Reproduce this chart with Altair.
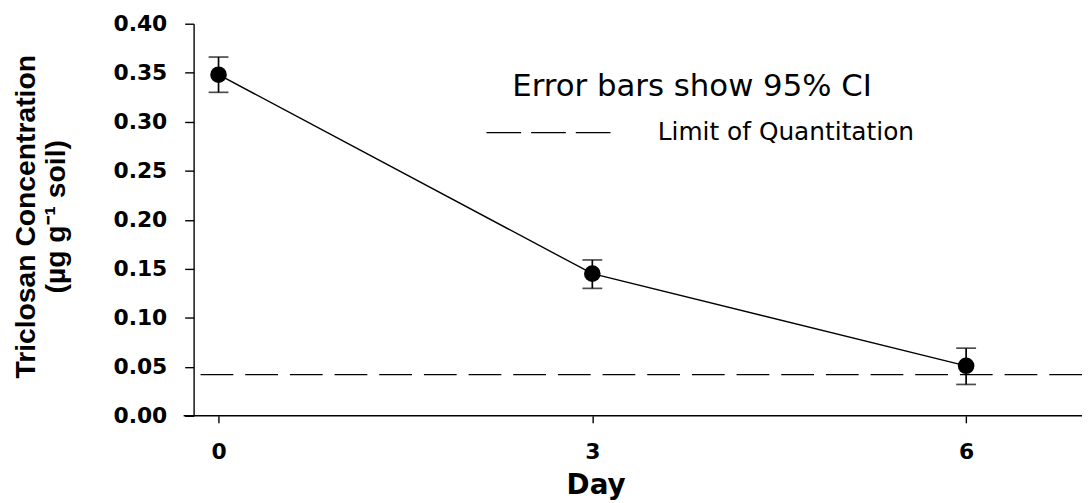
import altair as alt
import pandas as pd

# ---- data ----
days = [0, 3, 6]
means = [0.348, 0.145, 0.051]
ci_low = [0.330, 0.130, 0.032]
ci_high = [0.366, 0.159, 0.069]
loq = 0.042

x_ticks = [0, 3, 6]
y_ticks = [0.0, 0.05, 0.10, 0.15, 0.20, 0.25, 0.30, 0.35, 0.40]

# annotation anchor points (data coordinates)
note_text = ["Error bars show 95% CI"]
note_x = [2.357]
note_y = [0.3261]
legend_text = ["Limit of Quantitation"]
legend_text_x = [3.525]
legend_text_y = [0.281]
legend_line_x = [2.15]
legend_line_x2 = [3.15]
legend_line_y = [0.2889]

# x-axis baseline extent (data units; it pokes slightly left of the y axis)
axis_line_x = [-0.28]
axis_line_x2 = [6.93]
axis_line_y = [0.0]

W, H = 895, 395

df = pd.DataFrame({"day": days, "mean": means, "lo": ci_low, "hi": ci_high})

xscale = alt.Scale(domain=[-0.2, 6.93], nice=False, zero=False)
yscale = alt.Scale(domain=[0, 0.40], nice=False, zero=False)

x_axis = alt.Axis(
    values=x_ticks, format="d", title="Day", grid=False, domain=False,
    tickSize=7, labelPadding=19,
    titleFont="DejaVu Sans", titleFontSize=28, titleFontWeight="bold",
    titleBaseline="alphabetic", titleAlign="center", titleX=405, titleY=78,
)
y_axis = alt.Axis(
    values=y_ticks, format=".2f", grid=False,
    title=["Triclosan Concentration", "(µg g⁻¹ soil)"],
    tickSize=9, labelPadding=18,
    titleFont="Liberation Sans", titleFontSize=28.5, titleFontWeight="bold",
    titleAngle=270, titleAlign="center", titleBaseline="alphabetic",
    titleX=-160, titleY=194, titleLineHeight=30,
)

X = alt.X("day:Q", scale=xscale, axis=x_axis)
Y = alt.Y("mean:Q", scale=yscale, axis=y_axis)

base = alt.Chart(df)

line = base.mark_line(color="black", strokeWidth=1.4).encode(x=X, y=Y)

err = base.mark_rule(color="black", strokeWidth=1.7).encode(
    x=alt.X("day:Q", scale=xscale),
    y=alt.Y("lo:Q", scale=yscale),
    y2="hi:Q",
)
cap_lo = base.mark_tick(color="black", thickness=1.7, size=20, orient="horizontal").encode(
    x=alt.X("day:Q", scale=xscale), y=alt.Y("lo:Q", scale=yscale)
)
cap_hi = base.mark_tick(color="black", thickness=1.7, size=20, orient="horizontal").encode(
    x=alt.X("day:Q", scale=xscale), y=alt.Y("hi:Q", scale=yscale)
)
pts = base.mark_circle(color="black", opacity=1, size=280).encode(
    x=alt.X("day:Q", scale=xscale), y=alt.Y("mean:Q", scale=yscale)
)

loq_rule = alt.Chart(pd.DataFrame({"loq": [loq]})).mark_rule(
    color="black", strokeWidth=1.3, strokeDash=[33, 12]
).encode(y=alt.Y("loq:Q", scale=yscale))

axis_line = alt.Chart(pd.DataFrame({"x": axis_line_x, "x2": axis_line_x2, "y": axis_line_y})).mark_rule(
    color="black", strokeWidth=1.4
).encode(x=alt.X("x:Q", scale=xscale), x2="x2:Q", y=alt.Y("y:Q", scale=yscale))

note = alt.Chart(pd.DataFrame({"t": note_text, "x": note_x, "y": note_y})).mark_text(
    align="left", baseline="alphabetic", font="DejaVu Sans", fontSize=31, color="black"
).encode(x=alt.X("x:Q", scale=xscale), y=alt.Y("y:Q", scale=yscale), text="t:N")

leg_text = alt.Chart(pd.DataFrame({"t": legend_text, "x": legend_text_x, "y": legend_text_y})).mark_text(
    align="left", baseline="alphabetic", font="DejaVu Sans", fontSize=25, color="black"
).encode(x=alt.X("x:Q", scale=xscale), y=alt.Y("y:Q", scale=yscale), text="t:N")

leg_line = alt.Chart(pd.DataFrame({"x": legend_line_x, "x2": legend_line_x2, "y": legend_line_y})).mark_rule(
    color="black", strokeWidth=1.3, strokeDash=[35, 10]
).encode(x=alt.X("x:Q", scale=xscale), x2="x2:Q", y=alt.Y("y:Q", scale=yscale))

chart = alt.layer(
    loq_rule, line, err, cap_lo, cap_hi, pts, axis_line, note, leg_line, leg_text
).properties(
    width=W, height=H,
    autosize=alt.AutoSizeParams(type="none"),
    padding={"left": 187, "top": 14, "right": 0, "bottom": 86},
    background="white",
).configure_view(stroke=None).configure_axis(
    domainColor="black", domainWidth=1.4, tickColor="black", tickWidth=1.4,
    labelColor="black", labelFont="DejaVu Sans", labelFontWeight="bold",
    labelFontSize=22, titleColor="black",
)

chart.save("out.html", embed_options={"renderer": "svg", "actions": False})
